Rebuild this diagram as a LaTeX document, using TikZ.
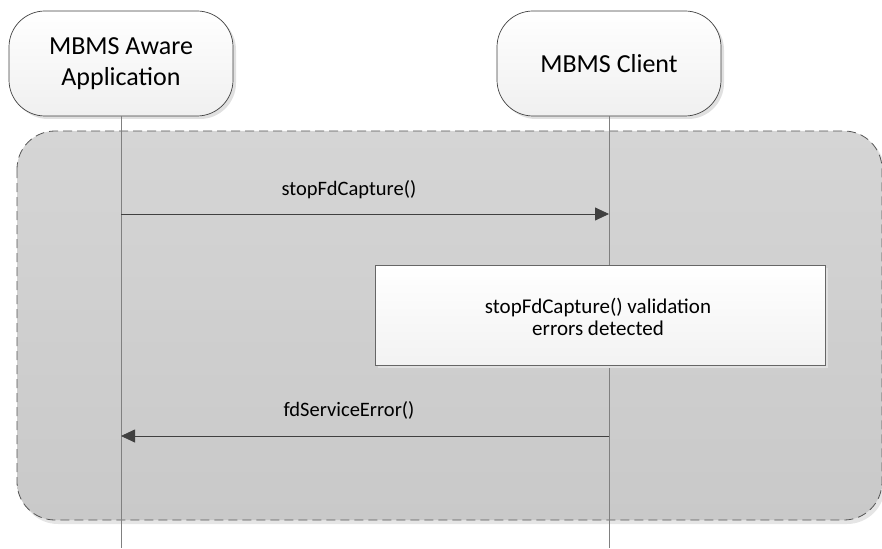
\documentclass[tikz,border=0pt]{standalone}
\usepackage{fontspec}
\setmainfont{Carlito}
\usetikzlibrary{arrows.meta}
\definecolor{framefill}{HTML}{D5D5D5}
\definecolor{framefillb}{HTML}{C9C9C9}
\definecolor{linegray}{HTML}{808080}
\definecolor{dashgray}{HTML}{555555}
\definecolor{arrowgray}{HTML}{404040}
\tikzset{
  actor/.style={draw=black!75, line width=0.7pt, rounded corners=36pt, top color=white, bottom color=black!6,
    minimum width=224pt, minimum height=105pt, align=center, font=\fontsize{26}{31}\selectfont, inner sep=0pt},
  actorshadow/.style={fill=black!12, rounded corners=36pt},
  notebox/.style={draw=black!60, line width=0.6pt, top color=white, bottom color=black!5,
    minimum width=450pt, minimum height=100pt, inner sep=0pt},
  notetext/.style={align=center, font=\fontsize{21}{22}\selectfont, inner sep=0pt},
  lifeline/.style={draw=linegray, line width=0.9pt},
  msg/.style={draw=arrowgray, line width=0.8pt, -{Triangle[length=14pt,width=13pt]}},
  msglabel/.style={font=\fontsize{20.5}{24}\selectfont, inner sep=0pt, anchor=base},
}
\begin{document}
\begin{tikzpicture}[x=1pt,y=-1pt]
\useasboundingbox (0,0) rectangle (882,548);
% frame shadow + frame
\fill[black!10, rounded corners=38pt] (20,134) rectangle (885,524);
\path[top color=framefill, bottom color=framefillb, rounded corners=38pt] (17,131) rectangle (882,520);
\draw[dashgray, line width=0.8pt, dash pattern=on 9pt off 5pt, rounded corners=38pt] (17,131) rectangle (882,520);
% actor shadows
\fill[actorshadow] (12,14) rectangle (236,119);
\fill[actorshadow] (500,14) rectangle (724,119);
% actors
\node[actor] (app) at (121,63.5) {MBMS Aware\\Application};
\node[actor] (client) at (609,63.5) {MBMS Client};
% lifeline ends
\coordinate (append) at (121,548);
\coordinate (clientend) at (609,548);
\coordinate (a1) at (121,214);
\coordinate (c1) at (609,214);
\coordinate (a2) at (121,436);
\coordinate (c2) at (609,436);
\draw[lifeline] (app.south) -- (append);
\draw[lifeline] (client.south) -- (clientend);
% note box
\fill[black!12] (378,268) rectangle (828,368);
\node[notebox] (note) at (600,315) {};
\node[notetext] (notelabel) at (598,317) {stopFdCapture() validation\\errors detected};
% messages
\draw[msg] (a1) -- (c1);
\draw[msg] (c2) -- (a2);
\node[msglabel] (l1) at (349,195) {stopFdCapture()};
\node[msglabel] (l2) at (349,416) {fdServiceError()};
\end{tikzpicture}
\end{document}
